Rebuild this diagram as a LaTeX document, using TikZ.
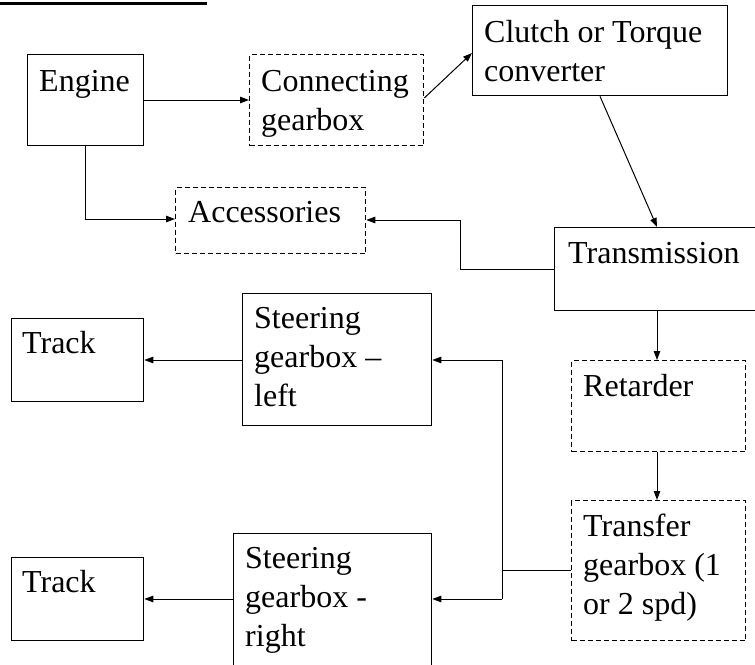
\documentclass[tikz,border=0pt]{standalone}
\usepackage{fontspec}
\setmainfont{Liberation Serif}
\usetikzlibrary{arrows.meta}
\begin{document}
\begin{tikzpicture}[x=1pt,y=-1pt,
  box/.style={draw, rectangle, inner sep=0pt, line width=1.3pt, anchor=north west},
  dbox/.style={box, dash pattern=on 5pt off 3pt},
  txt/.style={anchor=base west, inner sep=0pt, align=left, font={\fontsize{32}{39}\selectfont}},
  conn/.style={line width=1pt},
  arr/.style={conn, -{Triangle[length=9pt,width=6.5pt]}}]
\useasboundingbox (0,0) rectangle (755,664);
\clip (0,0) rectangle (755,664);
\fill[white] (0,0) rectangle (755,664);
% title underline
\coordinate (ul1) at (0,3); \coordinate (ul2) at (207,3);
\draw[line width=3pt] (ul1) -- (ul2);
% boxes (base anchor = baseline of the last line)
\node[box, minimum width=116pt, minimum height=91pt] (engine) at (27,54) {};
\node[txt, xshift=12pt, yshift=-37pt] at (engine.north west) {Engine};
\node[dbox, minimum width=174pt, minimum height=91pt] (conn) at (249,54) {};
\node[txt, xshift=12pt, yshift=-76pt] at (conn.north west) {Connecting\\gearbox};
\node[box, minimum width=255pt, minimum height=90pt] (clutch) at (472,5) {};
\node[txt, xshift=12pt, yshift=-76pt] at (clutch.north west) {Clutch or Torque\\converter};
\node[dbox, minimum width=190pt, minimum height=66pt] (acc) at (175,187) {};
\node[txt, xshift=13pt, yshift=-35pt] at (acc.north west) {Accessories};
\node[box, minimum width=226pt, minimum height=83pt] (trans) at (554,227) {};
\node[txt, xshift=14pt, yshift=-36pt] at (trans.north west) {Transmission};
\node[dbox, minimum width=174pt, minimum height=91pt] (ret) at (571,360) {};
\node[txt, xshift=12pt, yshift=-36pt] at (ret.north west) {Retarder};
\node[dbox, minimum width=174pt, minimum height=140pt] (transfer) at (571,500) {};
\node[txt, xshift=12pt, yshift=-114pt] at (transfer.north west) {Transfer\\gearbox (1\\or 2 spd)};
\node[box, minimum width=189pt, minimum height=132pt] (sl) at (242,293) {};
\node[txt, xshift=12pt, yshift=-113pt] at (sl.north west) {Steering\\gearbox --\\left};
\node[box, minimum width=198pt, minimum height=170pt] (sr) at (233,533) {};
\node[txt, xshift=12pt, yshift=-113pt] at (sr.north west) {Steering\\gearbox -\\right};
\node[box, minimum width=132pt, minimum height=83pt] (track1) at (11,318) {};
\node[txt, xshift=11pt, yshift=-35pt] at (track1.north west) {Track};
\node[box, minimum width=132pt, minimum height=83pt] (track2) at (11,557) {};
\node[txt, xshift=11pt, yshift=-35pt] at (track2.north west) {Track};
% connectors
\draw[arr] (engine.east |- 0,100) -- (conn.west |- 0,100);
\draw[arr] (conn.east |- 0,98) -- (clutch.west |- 0,53);
\draw[arr] (clutch.south -| 600,0) -- (trans.north -| 657,0);
\draw[arr] (engine.south -| 85,0) -- (85,219) -- (acc.west |- 0,219);
\draw[arr] (trans.west |- 0,269) -- (460,269) -- (460,220) -- (acc.east |- 0,220);
\draw[arr] (trans.south -| 657,0) -- (ret.north -| 657,0);
\draw[arr] (ret.south -| 657,0) -- (transfer.north -| 657,0);
\coordinate (jt) at (502,360);
\coordinate (jb) at (502,599);
\draw[conn] (transfer.west |- 0,570) -- (502,570);
\draw[conn] (jt) -- (jb);
\draw[arr] (jt) -- (sl.east |- jt);
\draw[arr] (jb) -- (sr.east |- jb);
\draw[arr] (sl.west |- 0,360) -- (track1.east |- 0,360);
\draw[arr] (sr.west |- 0,599) -- (track2.east |- 0,599);
\end{tikzpicture}
\end{document}
